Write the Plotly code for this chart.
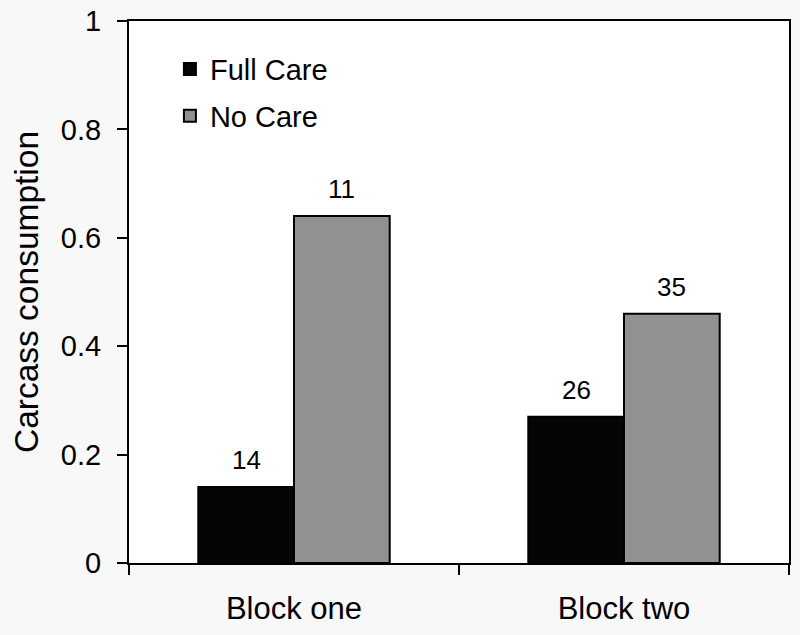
import plotly.graph_objects as go

categories = ["Block one", "Block two"]
full_care = [0.14, 0.27]
no_care = [0.64, 0.46]
full_care_n = ["14", "26"]
no_care_n = ["11", "35"]
y_ticks = [0, 0.2, 0.4, 0.6, 0.8, 1]
y_ticklabels = ["0", "0.2", "0.4", "0.6", "0.8", "1"]

FONT = "Liberation Sans, Arial, sans-serif"
BARGAP = 0.42

fig = go.Figure()
fig.add_trace(go.Bar(
    x=categories, y=full_care, name="Full Care",
    marker=dict(color="#050505", line=dict(color="black", width=2)),
    legendgroup="a",
))
fig.add_trace(go.Bar(
    x=categories, y=no_care, name="No Care",
    marker=dict(color="#919191", line=dict(color="black", width=2)),
    legendgroup="b",
))

# count labels above bars
off = (1 - BARGAP) / 4
for series, labels, sign in [(full_care, full_care_n, -1), (no_care, no_care_n, 1)]:
    for i, (v, t) in enumerate(zip(series, labels)):
        fig.add_annotation(
            x=i + sign * off, y=v, xref="x", yref="y",
            text=t, showarrow=False, yanchor="bottom", yshift=10,
            font=dict(size=26, family=FONT, color="black"),
        )

fig.update_layout(
    width=800, height=635,
    margin=dict(l=129, r=11, t=21, b=72, autoexpand=False),
    paper_bgcolor="#f9f8f8",
    plot_bgcolor="white",
    barmode="group",
    bargap=BARGAP,
    bargroupgap=0,
    font=dict(family=FONT, color="black"),
    legend=dict(
        x=0.062, y=0.958, xanchor="left", yanchor="top",
        font=dict(size=29, family=FONT, color="black"),
        bgcolor="rgba(0,0,0,0)",
        traceorder="grouped", tracegroupgap=6,
    ),
    showlegend=True,
)
fig.update_xaxes(
    showline=True, linecolor="black", linewidth=2, mirror=True,
    ticks="outside", ticklen=10, tickwidth=2, tickcolor="black",
    tickson="boundaries", automargin=False, ticklabelstandoff=17,
    tickfont=dict(size=31, family=FONT, color="black"),
    showgrid=False,
)
fig.update_yaxes(
    range=[0, 1], automargin=False,
    tickvals=y_ticks, ticktext=y_ticklabels, ticklabelstandoff=10,
    showline=True, linecolor="black", linewidth=2, mirror=True,
    ticks="outside", ticklen=10, tickwidth=2, tickcolor="black",
    tickfont=dict(size=29, family=FONT, color="black"),
    showgrid=False, zeroline=False,
    title=dict(text="Carcass consumption", font=dict(size=33.5, family=FONT, color="black"), standoff=12),
)

fig.write_html(
    "out.html",
    config={"displayModeBar": False},
    post_script="document.body.style.margin='0';",
)
